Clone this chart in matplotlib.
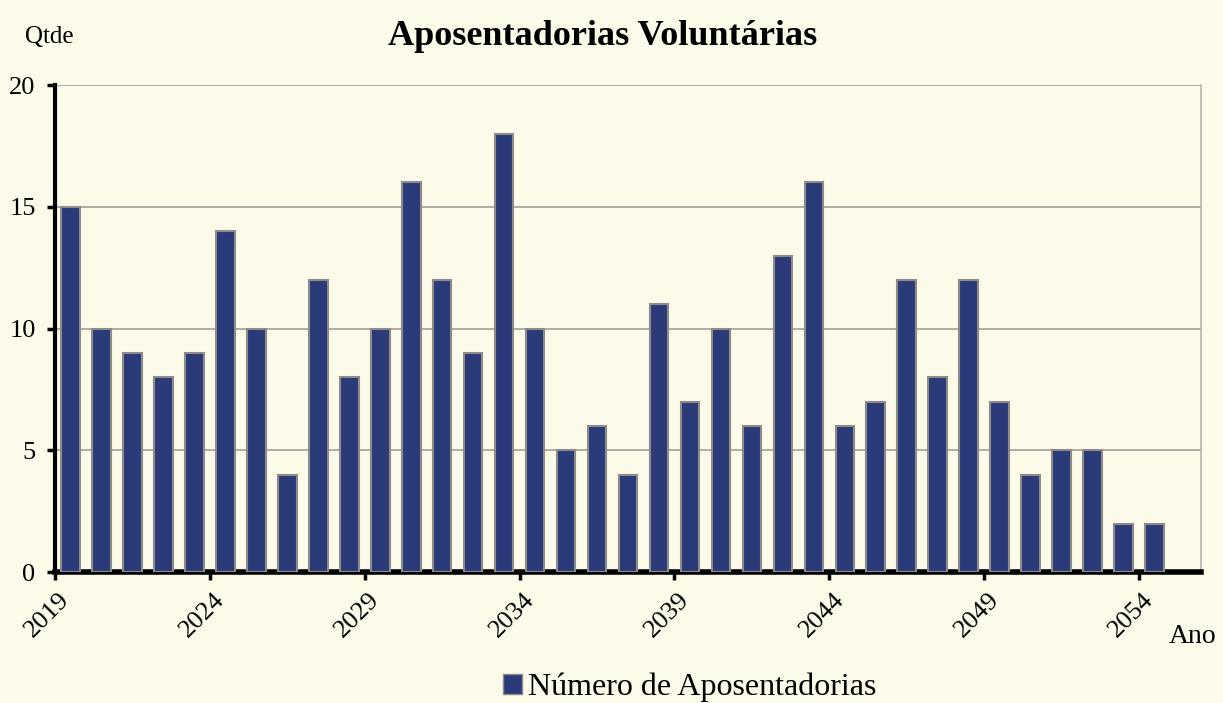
import matplotlib
matplotlib.use("Agg")
import matplotlib.pyplot as plt
import matplotlib.transforms as mtransforms
from matplotlib.patches import Patch
from matplotlib.ticker import FixedLocator, NullFormatter

years = list(range(2019, 2055))
values = [15, 10, 9, 8, 9, 14, 10, 4, 12, 8, 10, 16, 12, 9, 18, 10, 5, 6, 4, 11,
          7, 10, 6, 13, 16, 6, 7, 12, 8, 12, 7, 4, 5, 5, 2, 2]
yticks = [0, 5, 10, 15, 20]
label_step = 5
title = "Aposentadorias Voluntárias"
series_name = "Número de Aposentadorias"

plt.rcParams['font.family'] = ['Liberation Serif', 'DejaVu Serif']

bg = '#FCFAE9'
bar_color = '#2B3A78'
edge_color = '#8E8C8A'
grid_color = '#ABA69E'

fig = plt.figure(figsize=(12.23, 7.03), dpi=100, facecolor=bg)
ax = fig.add_axes([0.045, 0.186, 0.937, 0.693], facecolor=bg)

x = list(range(len(years)))
ax.bar(x, values, width=0.6, color=bar_color, edgecolor=edge_color,
       linewidth=1.5, zorder=3)

ax.set_xlim(-0.5, len(years) + 0.5)
ax.set_ylim(0, 20)
ax.set_yticks(yticks)
ax.set_yticklabels([str(v) for v in yticks], fontsize=19)
ax.yaxis.grid(True, color=grid_color, linewidth=1.3, zorder=0)

major = [i for i in x if i % label_step == 0]
ax.set_xticks(major)
ax.set_xticklabels([str(years[i]) for i in major], rotation=45, ha='right',
                   rotation_mode='anchor', fontsize=19)
ax.tick_params(axis='x', which='major', length=0, pad=12)
offset = mtransforms.ScaledTranslation(-12 / 100, 0, fig.dpi_scale_trans)
for lbl in ax.get_xticklabels():
    lbl.set_transform(lbl.get_transform() + offset)
ax.xaxis.set_minor_locator(FixedLocator([i - 0.5 for i in major]))
ax.xaxis.set_minor_formatter(NullFormatter())
ax.tick_params(axis='x', which='minor', length=6, width=2.5, color='black')
ax.tick_params(axis='y', length=6, width=2.5, color='black', pad=8)

ax.spines['left'].set_linewidth(3)
ax.spines['bottom'].set_linewidth(4)
ax.spines['top'].set_visible(False)
ax.spines['right'].set_color('#B8B4AC')
ax.spines['right'].set_linewidth(1.2)

fig.text(0.493, 0.948, title, ha='center', va='center', fontsize=26,
         fontweight='bold')
fig.text(0.04, 0.947, 'Qtde', ha='center', va='center', fontsize=18)
fig.text(0.975, 0.095, 'Ano', ha='center', va='center', fontsize=20)

fig.legend(handles=[Patch(facecolor=bar_color, edgecolor=edge_color)],
           labels=[series_name], loc='center', bbox_to_anchor=(0.564, 0.022),
           frameon=False, fontsize=23, handlelength=0.6, handleheight=0.6,
           handletextpad=0.2)

fig.savefig('out.png', dpi=100, facecolor=bg)
